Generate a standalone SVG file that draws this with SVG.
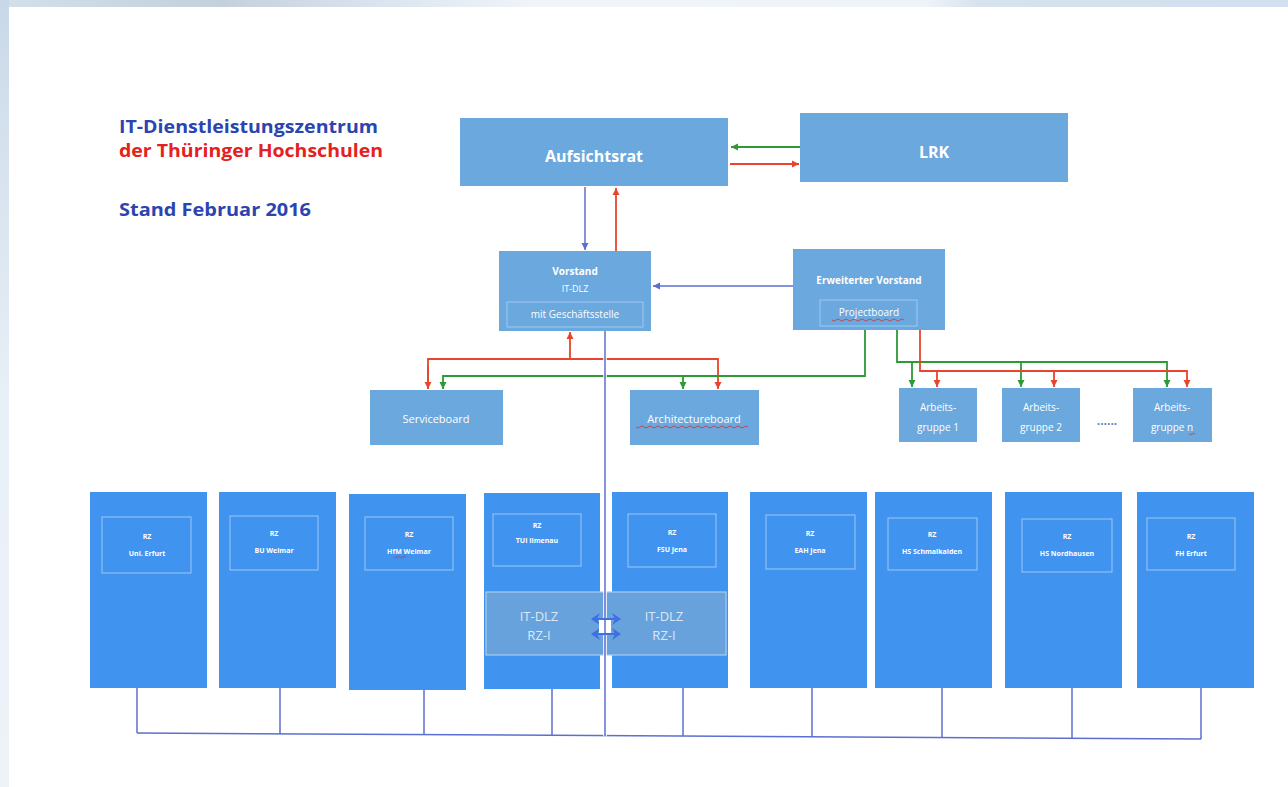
<svg xmlns="http://www.w3.org/2000/svg" width="1288" height="787" viewBox="0 0 1288 787">
<defs>
<linearGradient id="topband" x1="0" y1="0" x2="1" y2="0">
<stop offset="0" stop-color="#d3dfeb"/>
<stop offset="0.17" stop-color="#c4d0dc"/>
<stop offset="0.3" stop-color="#dbe5ef"/>
<stop offset="0.42" stop-color="#f1f5f9"/>
<stop offset="0.72" stop-color="#eef3f8"/>
<stop offset="0.76" stop-color="#d6e2ee"/>
<stop offset="1" stop-color="#d3e0ed"/>
</linearGradient>
<linearGradient id="leftband" x1="0" y1="0" x2="0" y2="1">
<stop offset="0" stop-color="#c8d8e8"/>
<stop offset="0.15" stop-color="#d3e0ed"/>
<stop offset="0.5" stop-color="#e8eff6"/>
<stop offset="1" stop-color="#eef3f8"/>
</linearGradient>
<marker id="ab" markerUnits="userSpaceOnUse" markerWidth="8" markerHeight="8" refX="7" refY="4" orient="auto-start-reverse"><path d="M0,0.5 L7,4 L0,7.5 z" fill="#5b6fd0"/></marker>
<marker id="ar" markerUnits="userSpaceOnUse" markerWidth="8" markerHeight="8" refX="7" refY="4" orient="auto"><path d="M0,0.5 L7,4 L0,7.5 z" fill="#e8452c"/></marker>
<marker id="ag" markerUnits="userSpaceOnUse" markerWidth="8" markerHeight="8" refX="7" refY="4" orient="auto"><path d="M0,0.5 L7,4 L0,7.5 z" fill="#2d9a35"/></marker>
<marker id="ad" markerUnits="userSpaceOnUse" markerWidth="10" markerHeight="12" refX="8" refY="6" orient="auto-start-reverse"><path d="M0,0 L9,6 L0,12 L3,6 z" fill="#3f6fe0"/></marker>
</defs>
<style>
.top{fill:#6aa8dd;}
.rz{fill:#4193f0;}
.inner{fill:none;stroke:#9ec8f5;stroke-width:1;}
.t{font-family:"Open Sans","Liberation Sans",sans-serif;fill:#ffffff;text-anchor:middle;}
.b{font-weight:bold;}
.small{font-size:7px;font-weight:bold;}
.lb{fill:none;stroke:#5b6fd0;stroke-width:1.5;}
.lr{fill:none;stroke:#e8452c;stroke-width:1.8;}
.lg{fill:none;stroke:#2d9a35;stroke-width:1.8;}
.squig{fill:none;stroke:#d6303a;stroke-width:0.8;}
.title{font-family:"Open Sans","Liberation Sans",sans-serif;font-weight:bold;font-size:17px;}
.band{font-family:"Open Sans","Liberation Sans",sans-serif;font-size:13px;fill:#dbe8f6;text-anchor:middle;}
</style>
<rect x="0" y="0" width="1288" height="787" fill="#ffffff"/>
<rect x="0" y="0" width="1288" height="7" fill="url(#topband)"/>
<rect x="0" y="0" width="9" height="787" fill="url(#leftband)"/>

<g id="title">
<text class="title" x="119" y="133" fill="#2b44b0" textLength="259" lengthAdjust="spacingAndGlyphs">IT-Dienstleistungszentrum</text>
<text class="title" x="119" y="157" fill="#e5211d" textLength="264" lengthAdjust="spacingAndGlyphs">der Thüringer Hochschulen</text>
<text class="title" x="119" y="216" fill="#2b44b0" textLength="192" lengthAdjust="spacingAndGlyphs">Stand Februar 2016</text>
</g>

<g id="connectors">
<path class="lg" d="M800,147 L731,147" marker-end="url(#ag)"/>
<path class="lr" d="M730,164 L799,164" marker-end="url(#ar)"/>
<path class="lb" d="M585,187 L585,250" marker-end="url(#ab)"/>
<path class="lr" d="M616,251 L616,188" marker-end="url(#ar)"/>
<path class="lb" d="M793,286 L653,286" marker-end="url(#ab)"/>
<path class="lr" d="M570,359 L570,332" marker-end="url(#ar)"/>
<path class="lr" d="M428,389 L428,359 L718,359 L718,389" marker-end="url(#ar)"/>
<path class="lr" d="M428,366 L428,389" marker-end="url(#ar)"/>
<path class="lg" d="M865,330 L865,376 L443,376 L443,389" marker-end="url(#ag)"/>
<path class="lg" d="M683,376 L683,389" marker-end="url(#ag)"/>
<path class="lg" d="M897,330 L897,362 L1167,362 L1167,387" marker-end="url(#ag)"/>
<path class="lg" d="M912,362 L912,387" marker-end="url(#ag)"/>
<path class="lg" d="M1021,362 L1021,387" marker-end="url(#ag)"/>
<path class="lr" d="M920,330 L920,371 L1187,371 L1187,387" marker-end="url(#ar)"/>
<path class="lr" d="M937,371 L937,387" marker-end="url(#ar)"/>
<path class="lr" d="M1054,371 L1054,387" marker-end="url(#ar)"/>
<path class="lb" d="M137,733 L1201,739"/>
<path class="lb" d="M137,688 L137,733"/>
<path class="lb" d="M280,688 L280,734"/>
<path class="lb" d="M424,690 L424,735"/>
<path class="lb" d="M552,689 L552,735"/>
<path class="lb" d="M683,688 L683,736"/>
<path class="lb" d="M812,688 L812,737"/>
<path class="lb" d="M942,688 L942,737"/>
<path class="lb" d="M1072,688 L1072,738"/>
<path class="lb" d="M1201,688 L1201,739"/>
</g>

<g id="aufsichtsrat">
<rect class="top" x="460" y="118" width="268" height="68"/>
<text class="t b" x="594" y="162" font-size="16">Aufsichtsrat</text>
</g>
<g id="lrk">
<rect class="top" x="800" y="113" width="268" height="69"/>
<text class="t b" x="934" y="158" font-size="16">LRK</text>
</g>
<g id="vorstand">
<rect class="top" x="499" y="251" width="152" height="80"/>
<text class="t b" x="575" y="275" font-size="10">Vorstand</text>
<text class="t" x="575" y="292" font-size="9">IT-DLZ</text>
<rect class="inner" x="507" y="302" width="136" height="25" stroke="#d6e6f5"/>
<text class="t" x="575" y="318" font-size="10">mit Geschäftsstelle</text>
</g>
<g id="erweiterter-vorstand">
<rect class="top" x="793" y="249" width="152" height="81"/>
<text class="t b" x="869" y="284" font-size="10">Erweiterter Vorstand</text>
<rect class="inner" x="820" y="300" width="97" height="26" stroke="#d6e6f5"/>
<text class="t" x="869" y="316" font-size="10">Projectboard</text>
<path class="squig" d="M832,320 q2,2 4,0 t4,0 t4,0 t4,0 t4,0 t4,0 t4,0 t4,0 t4,0 t4,0 t4,0 t4,0 t4,0 t4,0 t4,0 t4,0 t4,0 t4,0"/>
</g>
<g id="serviceboard">
<rect class="top" x="370" y="390" width="133" height="55"/>
<text class="t" x="436" y="423" font-size="11">Serviceboard</text>
</g>
<g id="architectureboard">
<rect class="top" x="630" y="390" width="129" height="55"/>
<text class="t" x="694" y="423" font-size="11">Architectureboard</text>
<path class="squig" d="M636,427 q2,2 4,0 t4,0 t4,0 t4,0 t4,0 t4,0 t4,0 t4,0 t4,0 t4,0 t4,0 t4,0 t4,0 t4,0 t4,0 t4,0 t4,0 t4,0 t4,0 t4,0 t4,0 t4,0 t4,0 t4,0 t4,0 t4,0 t4,0 t4,0"/>
</g>
<g id="arbeitsgruppe-1">
<rect class="top" x="899" y="388" width="78" height="54"/>
<text class="t" x="938" y="411" font-size="10">Arbeits-</text>
<text class="t" x="938" y="431" font-size="10">gruppe 1</text>
</g>
<g id="arbeitsgruppe-2">
<rect class="top" x="1002" y="388" width="78" height="54"/>
<text class="t" x="1041" y="411" font-size="10">Arbeits-</text>
<text class="t" x="1041" y="431" font-size="10">gruppe 2</text>
</g>
<text x="1107" y="425" font-family="Open Sans, Liberation Sans, sans-serif" font-size="12" font-weight="bold" fill="#5a86cc" text-anchor="middle">......</text>
<g id="arbeitsgruppe-n">
<rect class="top" x="1133" y="388" width="79" height="54"/>
<text class="t" x="1172" y="411" font-size="10">Arbeits-</text>
<text class="t" x="1172" y="431" font-size="10">gruppe n</text>
<path class="squig" d="M1189,434 q1.5,1.5 3,0 t3,0"/>
</g>

<g id="rz-uni-erfurt">
<rect class="rz" x="90" y="492" width="117" height="196"/>
<rect class="inner" x="102" y="517" width="89" height="56"/>
<text class="t small" x="147" y="539">RZ</text>
<text class="t small" x="147" y="556">Uni. Erfurt</text>
</g>
<g id="rz-bu-weimar">
<rect class="rz" x="219" y="492" width="117" height="196"/>
<rect class="inner" x="230" y="516" width="88" height="54"/>
<text class="t small" x="274" y="536">RZ</text>
<text class="t small" x="274" y="553">BU Weimar</text>
</g>
<g id="rz-hfm-weimar">
<rect class="rz" x="349" y="494" width="117" height="196"/>
<rect class="inner" x="365" y="517" width="88" height="53"/>
<text class="t small" x="409" y="537">RZ</text>
<text class="t small" x="409" y="554">HfM Weimar</text>
<path class="squig" d="M394,557 q1.5,1.5 3,0 t3,0 t3,0 t3,0"/>
</g>
<g id="rz-tu-ilmenau">
<rect class="rz" x="484" y="493" width="116" height="196"/>
<rect class="inner" x="493" y="514" width="88" height="52"/>
<text class="t small" x="537" y="528">RZ</text>
<text class="t small" x="537" y="543">TUI Ilmenau</text>
</g>
<g id="rz-fsu-jena">
<rect class="rz" x="612" y="492" width="116" height="196"/>
<rect class="inner" x="628" y="514" width="88" height="53"/>
<text class="t small" x="672" y="535">RZ</text>
<text class="t small" x="672" y="552">FSU  Jena</text>
</g>
<g id="it-dlz-rz-i">
<rect x="486" y="592" width="240" height="63" fill="#68a2dc" stroke="#a8cdf2" stroke-width="1.2"/>
<text class="band" x="539" y="621">IT-DLZ</text>
<text class="band" x="539" y="640">RZ-I</text>
<text class="band" x="664" y="621">IT-DLZ</text>
<text class="band" x="664" y="640">RZ-I</text>
</g>
<g id="rz-eah-jena">
<rect class="rz" x="750" y="492" width="117" height="196"/>
<rect class="inner" x="766" y="515" width="89" height="54"/>
<text class="t small" x="810" y="536">RZ</text>
<text class="t small" x="810" y="553">EAH Jena</text>
</g>
<g id="rz-hs-schmalkalden">
<rect class="rz" x="875" y="492" width="117" height="196"/>
<rect class="inner" x="888" y="518" width="89" height="52"/>
<text class="t small" x="932" y="537">RZ</text>
<text class="t small" x="932" y="554">HS  Schmalkalden</text>
</g>
<g id="rz-hs-nordhausen">
<rect class="rz" x="1005" y="492" width="117" height="196"/>
<rect class="inner" x="1022" y="519" width="90" height="53"/>
<text class="t small" x="1067" y="539">RZ</text>
<text class="t small" x="1067" y="556">HS Nordhausen</text>
</g>
<g id="rz-fh-erfurt">
<rect class="rz" x="1137" y="492" width="117" height="196"/>
<rect class="inner" x="1147" y="518" width="88" height="52"/>
<text class="t small" x="1191" y="539">RZ</text>
<text class="t small" x="1191" y="556">FH Erfurt</text>
</g>

<g id="main-line">
<path d="M605,331 L605,736" stroke="#ffffff" stroke-width="4" fill="none" opacity="0.8"/>
<path class="lb" d="M605,331 L605,736"/>
<path d="M592,619 L620,619" fill="none" stroke="#3f6fe0" stroke-width="2" marker-start="url(#ad)" marker-end="url(#ad)"/>
<path d="M592,634 L620,634" fill="none" stroke="#3f6fe0" stroke-width="2" marker-start="url(#ad)" marker-end="url(#ad)"/>
<rect x="599" y="620" width="12" height="13" fill="#ffffff"/>
<path class="lb" d="M605,620 L605,633"/>
</g>
</svg>
